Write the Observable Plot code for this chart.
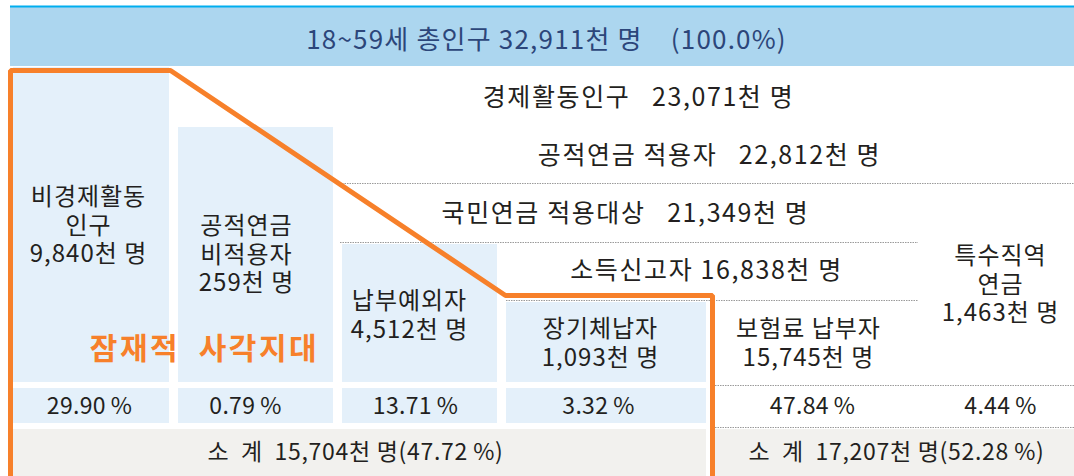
<!DOCTYPE html>
<html><head><meta charset="utf-8">
<script src="https://cdn.jsdelivr.net/npm/d3@7"></script>
<script src="https://cdn.jsdelivr.net/npm/@observablehq/plot@0.6"></script>
<style>body{margin:0;background:#fff}#chart svg{display:block}</style>
</head><body><div id="chart"></div>
<script>
// ---------- data (단위: 천 명, %) ----------
const totalLabel = "18~59세 총인구";
const totalValue = 32911;
const totalShare = 100.0;
const tierLabels = ["경제활동인구", "공적연금 적용자", "국민연금 적용대상", "소득신고자"];
const tierValues = [23071, 22812, 21349, 16838];
const groupLabels = ["비경제활동\n인구", "공적연금\n비적용자", "납부예외자", "장기체납자", "보험료 납부자", "특수직역\n연금"];
const groupValues = [9840, 259, 4512, 1093, 15745, 1463];
const groupShares = [29.90, 0.79, 13.71, 3.32, 47.84, 4.44];
const subtotalValues = [15704, 17207];
const subtotalShares = [47.72, 52.28];
const blindSpotLabel = "잠재적\u00a0\u00a0사각지대";

// ---------- layout (diagram geometry, separate from data) ----------
const W = 1074, H = 476;
const L = {
  banner: {x1: 10, x2: 1074, y1: 7, y2: 66},
  colX: [[13, 169], [178, 333], [342, 497], [506, 706]],
  colTop: [67, 127, 244, 302],
  cellBottom: 382,
  pctRow: [388, 423],
  subRow: [429, 476],
  subX: [[13, 706], [715, 1074]],
  tierX: [638, 709, 625, 706],
  tierY: [97, 155, 213, 270],
  groupX: [88, 246, 409, 600, 808, 1000],
  groupY: [224, 253, 314, 342, 342, 283],
  pctY: 406,
  pctX: [89, 245, 415, 598, 812, 1000],
  subTextX: [355, 896],
  subTextY: 452,
  dotted: [
    {y: 183, x1: 342, x2: 1074},
    {y: 242, x1: 340, x2: 918},
    {y: 300, x1: 506, x2: 918},
    {y: 385, x1: 715, x2: 1074},
    {y: 427, x1: 715, x2: 1074}
  ],
  outline: [[10, 476], [10, 70], [170, 70], [505, 295], [712, 295], [712, 476]],
  blindSpot: {x: 204, y: 349},
  // letter-spacing (px) per text mark, in mark order
  spacing: [1.2, 1.6, 1.0, 0.3, 0.7, 2.5]
};

const fmt = d3.format(",");
const pct = v => v.toFixed(2) + "\u2009%";
const DARK = "#231f20", NAVY = "#2c467a", CELL = "#e4f0fa", GREY = "#f2f1ee", ORANGE = "#f7802a";
const FONT = "'Noto Sans CJK KR', 'Noto Sans', sans-serif";
const SP = "\u00a0";

const cells = L.colX.map((c, i) => ({x1: c[0], x2: c[1], y1: L.colTop[i], y2: L.cellBottom}));
const pctCells = L.colX.map(c => ({x1: c[0], x2: c[1], y1: L.pctRow[0], y2: L.pctRow[1]}));
const subCells = L.subX.map(c => ({x1: c[0], x2: c[1], y1: L.subRow[0], y2: L.subRow[1]}));

const tiers = tierLabels.map((t, i) => ({
  text: t + (i === 3 ? SP : SP.repeat(3)) + fmt(tierValues[i]) + "천 명", x: L.tierX[i], y: L.tierY[i]
}));
const groups = groupLabels.map((g, i) => ({
  text: g + "\n" + fmt(groupValues[i]) + "천 명", x: L.groupX[i], y: L.groupY[i]
}));
const pcts = groupShares.map((s, i) => ({text: pct(s), x: L.pctX[i], y: L.pctY}));
const subs = subtotalValues.map((v, i) => ({
  text: "소" + SP.repeat(2) + "계" + SP.repeat(2) + fmt(v) + "천 명(" + pct(subtotalShares[i]) + ")",
  x: L.subTextX[i], y: L.subTextY
}));
const banner = [{text: `${totalLabel} ${fmt(totalValue)}천 명${SP.repeat(4)}(${totalShare.toFixed(1)}%)`, x: 546, y: 40}];

const chart = Plot.plot({
  width: W, height: H,
  margin: 0,
  x: {domain: [0, W], range: [0, W], axis: null},
  y: {domain: [0, H], range: [0, H], axis: null},
  style: {fontFamily: FONT, background: "#fff"},
  marks: [
    Plot.rect([L.banner], {x1: "x1", x2: "x2", y1: "y1", y2: "y2", fill: "#acd6ef"}),
    Plot.ruleY([6], {x1: L.banner.x1, x2: L.banner.x2, stroke: "#00aeef", strokeWidth: 2}),
    Plot.rect(cells, {x1: "x1", x2: "x2", y1: "y1", y2: "y2", fill: CELL}),
    Plot.rect(pctCells, {x1: "x1", x2: "x2", y1: "y1", y2: "y2", fill: CELL}),
    Plot.rect(subCells, {x1: "x1", x2: "x2", y1: "y1", y2: "y2", fill: GREY}),
    Plot.ruleY(L.dotted, {y: "y", x1: "x1", x2: "x2", stroke: "#9a9a9a", strokeWidth: 1.2, strokeDasharray: "1.5,1"}),
    Plot.line(L.outline, {x: d => d[0], y: d => d[1], stroke: ORANGE, strokeWidth: 5, strokeLinejoin: "miter", curve: "linear"}),
    Plot.text(banner, {x: "x", y: "y", text: "text", fill: NAVY, fontSize: 26}),
    Plot.text(tiers, {x: "x", y: "y", text: "text", fill: DARK, fontSize: 25}),
    Plot.text(groups, {x: "x", y: "y", text: "text", fill: DARK, fontSize: 24, lineHeight: 1.19}),
    Plot.text(pcts, {x: "x", y: "y", text: "text", fill: DARK, fontSize: 23}),
    Plot.text(subs, {x: "x", y: "y", text: "text", fill: DARK, fontSize: 23}),
    Plot.text([{text: blindSpotLabel, ...L.blindSpot}], {x: "x", y: "y", text: "text", fill: ORANGE, fontSize: 30, fontWeight: "bold"})
  ]
});
// apply letter-spacing to the text marks (in the order they were declared)
Array.from(chart.querySelectorAll("g[aria-label='text']")).forEach((g, i) => {
  const ls = L.spacing[i] ?? 0;
  g.setAttribute("letter-spacing", ls);
  g.style.letterSpacing = ls + "px";
});
document.getElementById("chart").append(chart);
</script>
</body></html>
